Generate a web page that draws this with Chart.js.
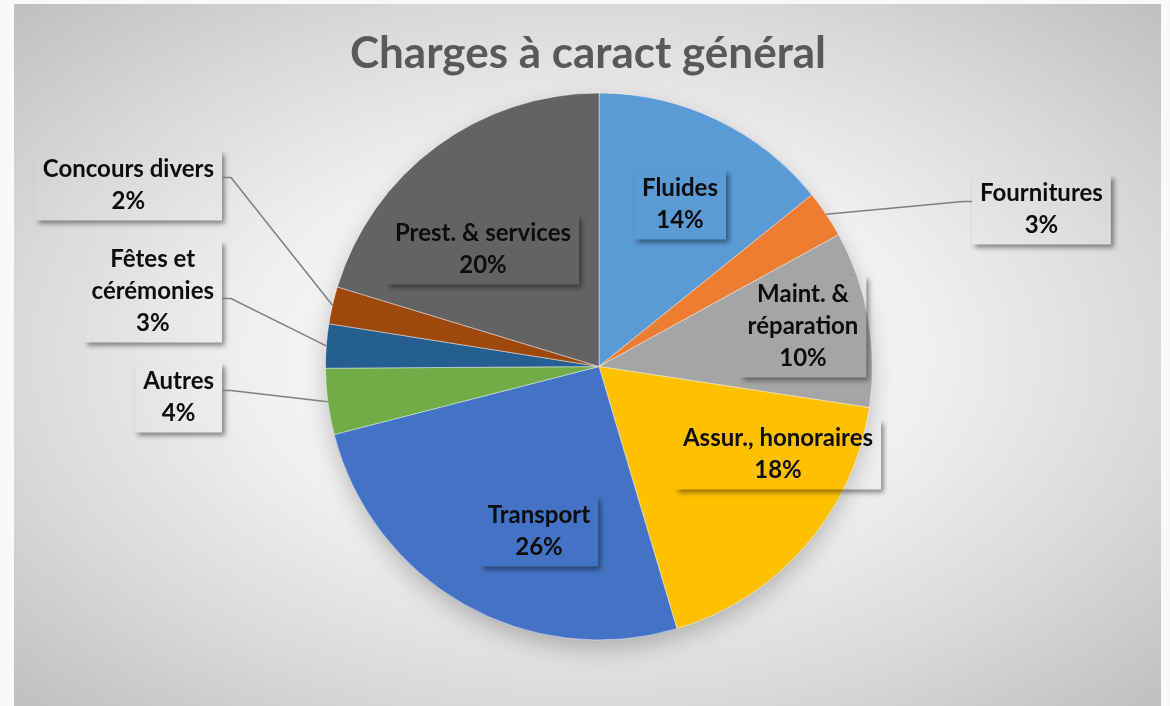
<!DOCTYPE html>
<html lang="fr">
<head>
    <meta charset="UTF-8">
    <title>Charges à caract général</title>
    <script src="https://cdn.jsdelivr.net/npm/chart.js@4.4.0/dist/chart.umd.min.js"></script>
    <style>
        body {
            margin: 0;
            background-color: #f8f8f8;
        }
        #wrap {
            width: 1170px;
            height: 706px;
        }
    </style>
</head>
<body>
<div id="wrap">
    <canvas id="pieChart" width="1170" height="706"></canvas>
</div>

<script>
    // Data (share of the total, clockwise from 12 o'clock)
    const categories = ['Fluides', 'Fournitures', 'Maint. & réparation', 'Assur., honoraires', 'Transport',
        'Autres', 'Fêtes et cérémonies', 'Concours divers', 'Prest. & services'];
    const labelLines = [['Fluides'], ['Fournitures'], ['Maint. &', 'réparation'], ['Assur., honoraires'], ['Transport'],
        ['Autres'], ['Fêtes et', 'cérémonies'], ['Concours divers'], ['Prest. & services']];
    const values = [14.2, 2.8, 10.4, 18.0, 25.6, 3.9, 2.6, 2.2, 20.3];
    const colors = ['#5B9BD5', '#ED7D31', '#A5A5A5', '#FFC000', '#4472C4', '#70AD47', '#255E91', '#9E480E', '#636363'];
    const chartTitle = 'Charges à caract général';

    // Label box placement, offsets from the pie centre (px).
    // Inside labels are centred on dx; outside ones are pinned by the edge the leader line leaves from.
    const labelLayout = [
        { dx: 81, dy: -162 },
        { dx: 373, dy: -157, leader: 'left', ly: -8 },
        { dx: 204, dy: -40 },
        { dx: 179, dy: 88 },
        { dx: -60, dy: 165 },
        { dx: -377, dy: 31, leader: 'right', ly: -7 },
        { dx: -377, dy: -75, leader: 'right', ly: 7 },
        { dx: -377, dy: -181, leader: 'right', ly: -8 },
        { dx: -116, dy: -117 }
    ];

    const FONT = 'Lato, "Open Sans", sans-serif';
    const LINE_H = 32;

    const backgroundPlugin = {
        id: 'excelBackground',
        beforeDraw(chart) {
            const ctx = chart.ctx;
            const W = chart.width, H = chart.height;
            const x0 = 14, y0 = 4, x1 = 1161, y1 = H;
            ctx.save();
            ctx.fillStyle = '#f9f9f9';
            ctx.fillRect(0, 0, W, H);
            // elliptical radial gradient filling the chart frame
            const cx = (x0 + x1) / 2, cy = (y0 + y1) / 2;
            const rx = (x1 - x0) / 2, ry = (y1 - y0) / 2;
            ctx.beginPath();
            ctx.rect(x0, y0, x1 - x0, y1 - y0);
            ctx.clip();
            ctx.translate(cx, cy);
            ctx.scale(1, ry / rx);
            const g = ctx.createRadialGradient(0, 0, 0, 0, 0, rx * 1.42);
            g.addColorStop(0, '#fafafa');
            g.addColorStop(0.4, '#f1f1f1');
            g.addColorStop(0.71, '#d9d9d9');
            g.addColorStop(1, '#bfbfbf');
            ctx.fillStyle = g;
            ctx.fillRect(-rx, -rx, rx * 2, rx * 2);
            ctx.restore();

            // title
            ctx.save();
            ctx.font = 'bold 44px ' + FONT;
            ctx.fillStyle = '#595959';
            ctx.textAlign = 'center';
            ctx.textBaseline = 'middle';
            ctx.fillText(chartTitle, 588, 54);
            ctx.restore();
        },
        beforeDatasetsDraw(chart) {
            // soft shadow under the pie
            const arc = chart.getDatasetMeta(0).data[0];
            if (!arc) return;
            const ctx = chart.ctx;
            ctx.save();
            ctx.shadowColor = 'rgba(0,0,0,0.25)';
            ctx.shadowBlur = 24;
            ctx.shadowOffsetY = 10;
            ctx.fillStyle = '#999';
            ctx.beginPath();
            ctx.arc(arc.x, arc.y, arc.outerRadius - 2, 0, Math.PI * 2);
            ctx.fill();
            ctx.restore();
        }
    };

    const labelPlugin = {
        id: 'excelLabels',
        afterDatasetsDraw(chart) {
            const ctx = chart.ctx;
            const meta = chart.getDatasetMeta(0);
            const total = values.reduce((a, b) => a + b, 0);
            ctx.save();
            ctx.font = 'bold 24px ' + FONT;
            meta.data.forEach((arc, i) => {
                const lay = labelLayout[i];
                const lines = labelLines[i].concat([Math.round(values[i] / total * 100) + '%']);
                const tw = Math.max(...lines.map(t => ctx.measureText(t).width));
                const w = tw + 16, h = lines.length * LINE_H + 6;
                let bx;
                if (lay.leader === 'right') bx = arc.x + lay.dx - w;
                else if (lay.leader === 'left') bx = arc.x + lay.dx;
                else bx = arc.x + lay.dx - w / 2;
                const cx = bx + w / 2, cy = arc.y + lay.dy;
                const by = cy - h / 2;

                // shadow of the (transparent) box, drawn only outside the box
                ctx.save();
                ctx.beginPath();
                ctx.rect(0, 0, chart.width, chart.height);
                ctx.rect(bx, by, w, h);
                ctx.clip('evenodd');
                ctx.shadowColor = 'rgba(0,0,0,0.45)';
                ctx.shadowBlur = 5;
                ctx.shadowOffsetX = 3 + 5000;
                ctx.shadowOffsetY = 3;
                ctx.fillStyle = '#000';
                ctx.fillRect(bx - 5000, by, w, h);
                ctx.restore();

                // leader line to the middle of the slice edge
                if (lay.leader) {
                    const mid = (arc.startAngle + arc.endAngle) / 2;
                    const ex = arc.x + Math.cos(mid) * arc.outerRadius;
                    const ey = arc.y + Math.sin(mid) * arc.outerRadius;
                    const sx = lay.leader === 'right' ? bx + w : bx;
                    const sy = cy + lay.ly;
                    const kx = lay.leader === 'right' ? sx + 9 : sx - 9;
                    ctx.strokeStyle = '#7f7f7f';
                    ctx.lineWidth = 1.5;
                    ctx.beginPath();
                    ctx.moveTo(sx, sy);
                    ctx.lineTo(kx, sy);
                    ctx.lineTo(ex, ey);
                    ctx.stroke();
                }

                ctx.fillStyle = '#0d0d0d';
                ctx.textAlign = 'center';
                ctx.textBaseline = 'middle';
                lines.forEach((t, k) => {
                    ctx.fillText(t, cx, by + 3 + LINE_H * (k + 0.5));
                });
            });
            ctx.restore();
        }
    };

    new Chart(document.getElementById('pieChart'), {
        type: 'pie',
        data: {
            labels: categories,
            datasets: [{
                data: values,
                backgroundColor: colors,
                borderColor: 'rgba(255,255,255,0.45)',
                borderWidth: 1
            }]
        },
        options: {
            responsive: false,
            animation: false,
            events: [],
            layout: {
                padding: { left: 325, right: 297, top: 92, bottom: 65 }
            },
            plugins: {
                legend: { display: false },
                title: { display: false },
                tooltip: { enabled: false }
            }
        },
        plugins: [backgroundPlugin, labelPlugin]
    });
</script>
</body>
</html>
